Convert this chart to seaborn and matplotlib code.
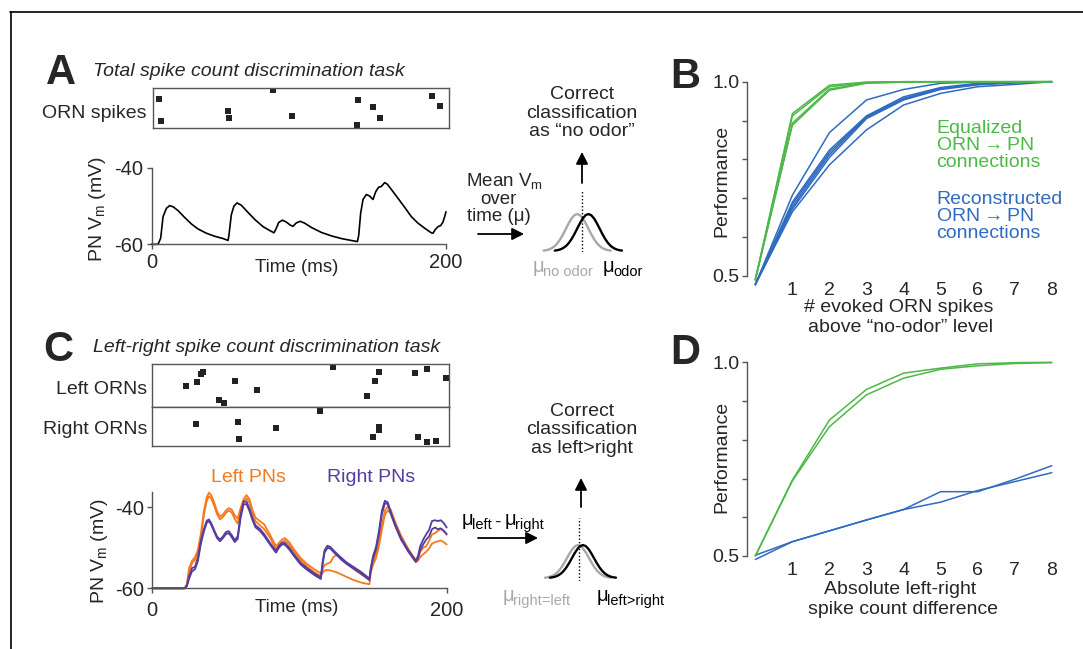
import pandas as pd
import seaborn as sns
import matplotlib.pyplot as plt
from matplotlib.lines import Line2D
from matplotlib.patches import FancyArrowPatch

sns.set_style('white')
plt.rcParams['font.family'] = ['Liberation Sans', 'DejaVu Sans']
plt.rcParams['mathtext.default'] = 'regular'

GREEN = '#4db848'
BLUE = '#2f6bc0'
ORANGE = '#f47920'
PURPLE = '#553c9f'
GRAY = '#a8a8a8'
SPINE = '#555555'
FS = 14

# ---- panel A: ORN spikes and PN membrane potential ----
a_spike_t = [5.0, 6.1, 51.9, 52.8, 82.7, 95.6, 140.4, 139.5, 150.4, 155.4, 190.3, 196.1]
a_spike_row = [0.27, 0.82, 0.58, 0.75, 0.06, 0.69, 0.31, 0.92, 0.47, 0.75, 0.19, 0.44]

a_time = [0, 4.3, 6.1, 7.7, 10, 12.2, 14.5, 17.9, 22.4, 27, 31.5, 37.1, 42.8, 48.5, 51.9,
          52.5, 54.1, 55.9, 58, 60.9, 65.5, 70, 75.7, 80.2, 83.1, 84.7, 86.3, 88.8, 91.5,
          94.2, 96, 98.3, 101, 104, 108.5, 115.3, 122.1, 128.9, 135.7, 139.8, 140.7, 142,
          143.6, 145.9, 148.1, 150.4, 152.2, 154.2, 156.1, 158.3, 160.1, 162.9, 167.4, 172,
          176.5, 181, 185.5, 190, 191.2, 192.8, 194.6, 196.4, 197.8, 199.1, 200]
a_vm = [-60, -60, -58.4, -52.8, -50.6, -49.9, -50.2, -51.2, -53.0, -54.7, -56.0, -57.1, -57.9,
        -58.5, -59.0, -57.6, -52.3, -50.0, -49.2, -49.8, -51.7, -53.5, -55.4, -56.4, -57.0,
        -55.8, -54.3, -53.7, -54.2, -55.0, -55.3, -54.4, -54.0, -54.5, -55.6, -56.9, -57.8,
        -58.5, -59.0, -59.3, -57.6, -51.9, -48.3, -47.0, -47.4, -48.3, -46.3, -45.1, -44.9,
        -43.9, -44.3, -45.7, -48.0, -50.4, -52.8, -54.5, -55.8, -57.0, -57.1, -56.1, -55.4,
        -55.1, -54.3, -52.8, -51.5]

# ---- panel C: left / right ORN spikes and PN potentials ----
c_left_t = [22.6, 30.1, 33.1, 34.7, 45.3, 48.5, 56.2, 71.3, 123.0, 145.9, 151.1, 154.0, 178.7, 186.9, 199.5]
c_left_row = [0.50, 0.43, 0.24, 0.19, 0.84, 0.91, 0.39, 0.60, 0.08, 0.74, 0.39, 0.19, 0.21, 0.12, 0.32]
c_right_t = [29.4, 58.2, 59.1, 84.3, 114.2, 149.9, 154.0, 154.0, 180.7, 186.9, 193.0]
c_right_row = [0.44, 0.39, 0.83, 0.55, 0.09, 0.77, 0.50, 0.60, 0.77, 0.91, 0.87]

c_time = [0, 22, 23.5, 25, 27, 29, 31, 33, 35, 37, 38.5, 40, 42, 44, 46, 48, 50, 52, 54, 56,
          58, 60, 62, 64, 66, 68, 70, 73, 76, 80, 84, 86, 88, 90, 93, 97, 101, 105, 110, 114.5,
          115.5, 117, 119, 121, 123, 125, 128, 132, 137, 142, 147.5, 148.5, 150, 152, 154, 156,
          158, 160, 162, 165, 169, 174, 179, 180.5, 182, 184, 186, 188, 190, 192, 194, 196, 198, 200]
left_pn_1 = [-60, -60, -59, -55, -53.2, -52.3, -50.5, -46.5, -41, -37.5,
             -36.4, -37.0, -38.8, -41.0, -42.3, -41.8, -40.8, -40.2, -40.6, -42.0,
             -42.8, -40.2, -38.0, -37.0, -38.0, -40.6, -42.5, -43.4, -44.2, -46.8,
             -49.6, -48.8, -48.0, -47.6, -48.6, -50.8, -52.6, -54.0, -55.3, -56.3,
             -55.5, -54.3, -53.9, -53.6, -52.3, -51.8, -52.3, -53.8, -55.3, -56.6,
             -57.8, -55.0, -53.2, -51.5, -48.5, -44.5, -40.8, -39.8, -40.6, -43.6,
             -47.0, -50.3, -53.0, -52.6, -51.0, -50.0, -49.6, -48.3, -46.7, -46.4,
             -45.8, -45.3, -45.9, -46.8]
left_pn_2 = [-60, -60, -59.3, -55.8, -53.8, -53.0, -51.2, -47.5, -42, -38.4,
             -37.3, -37.8, -39.6, -41.7, -43.0, -42.4, -41.4, -40.8, -41.3, -42.9,
             -44.0, -41.4, -38.8, -37.8, -38.8, -41.2, -43.4, -44.4, -45.4, -47.5,
             -50.3, -49.4, -48.6, -48.2, -49.3, -51.4, -53.2, -54.6, -56.0, -57.0,
             -56.3, -55.6, -55.5, -55.6, -55.8, -56.0, -56.5, -57.2, -58.0, -58.6,
             -59.0, -56.0, -54.2, -52.5, -49.5, -45.5, -41.8, -40.8, -41.5, -44.3,
             -47.6, -50.8, -53.5, -53.2, -52.3, -51.6, -51.0, -50.2, -49.0, -48.6,
             -48.4, -48.2, -48.6, -49.2]
right_pn_1 = [-60, -60, -59.2, -57.0, -55.0, -54.7, -52.4, -48.2, -45.4, -43.3,
              -43.0, -43.9, -45.6, -47.2, -48.0, -47.2, -46.1, -45.9, -46.9, -48.1,
              -47.2, -41.8, -38.6, -38.6, -40.3, -42.6, -44.4, -45.3, -46.6, -48.8,
              -50.8, -49.5, -48.8, -48.8, -50.0, -52.0, -53.8, -55.0, -56.3, -57.3,
              -54.0, -50.6, -49.5, -49.8, -50.6, -51.3, -52.4, -53.6, -54.8, -56.0,
              -57.6, -54.8, -52.0, -49.8, -45.8, -40.8, -38.4, -38.8, -41.2, -44.2,
              -47.6, -50.7, -53.2, -52.0, -49.6, -48.0, -46.7, -45.6, -43.4, -43.2,
              -43.4, -43.2, -43.9, -45.0]
right_pn_2 = [-60, -60, -59.5, -57.6, -55.8, -55.3, -53.2, -49.0, -46.0, -43.8,
              -43.4, -44.3, -46.0, -47.6, -48.4, -47.6, -46.6, -46.4, -47.4, -48.6,
              -47.8, -42.6, -39.3, -39.2, -40.9, -43.1, -44.9, -45.8, -47.1, -49.2,
              -51.2, -50.0, -49.2, -49.2, -50.4, -52.4, -54.2, -55.4, -56.7, -57.7,
              -54.6, -51.2, -50.0, -50.2, -51.0, -51.7, -52.8, -54.0, -55.2, -56.4,
              -58.0, -55.4, -52.6, -50.4, -46.6, -41.6, -39.0, -39.2, -41.6, -44.6,
              -48.0, -51.0, -53.5, -52.6, -50.6, -49.2, -48.0, -47.2, -45.4, -45.0,
              -45.4, -45.2, -45.8, -46.6]

# ---- schematic read-out distributions (in units of sigma) ----
bell_x = [-3, -2.75, -2.5, -2.25, -2, -1.75, -1.5, -1.25, -1, -0.75, -0.5, -0.25, 0,
          0.25, 0.5, 0.75, 1, 1.25, 1.5, 1.75, 2, 2.25, 2.5, 2.75, 3]
bell_y = [0.011, 0.023, 0.044, 0.080, 0.135, 0.216, 0.325, 0.458, 0.607, 0.755, 0.882, 0.969, 1.0,
          0.969, 0.882, 0.755, 0.607, 0.458, 0.325, 0.216, 0.135, 0.080, 0.044, 0.023, 0.011]
a_means = [0.0, 1.0]      # no odor, odor
a_threshold = 0.45
c_means = [0.0, 0.45]     # right=left, left>right
c_threshold = 0.1

# ---- panels B and D: performance ----
n_diff = [0, 1, 2, 3, 4, 5, 6, 7, 8]
b_equalized = [
    [0.49, 0.918, 0.991, 0.999, 1.0, 1.0, 1.0, 1.0, 1.0],
    [0.49, 0.912, 0.987, 0.998, 1.0, 1.0, 1.0, 1.0, 1.0],
    [0.49, 0.893, 0.981, 0.997, 0.999, 1.0, 1.0, 1.0, 1.0],
    [0.49, 0.888, 0.978, 0.996, 0.999, 1.0, 1.0, 1.0, 1.0],
]
b_reconstructed = [
    [0.478, 0.708, 0.869, 0.953, 0.980, 0.996, 0.999, 1.0, 1.0],
    [0.478, 0.690, 0.824, 0.912, 0.961, 0.985, 0.996, 0.999, 1.0],
    [0.478, 0.685, 0.818, 0.910, 0.957, 0.983, 0.994, 0.998, 1.0],
    [0.478, 0.678, 0.812, 0.908, 0.955, 0.982, 0.993, 0.998, 1.0],
    [0.478, 0.665, 0.786, 0.876, 0.940, 0.970, 0.987, 0.993, 1.0],
    [0.478, 0.672, 0.805, 0.905, 0.953, 0.980, 0.992, 0.997, 1.0],
]
d_equalized = [
    [0.5, 0.696, 0.851, 0.930, 0.972, 0.985, 0.996, 0.999, 1.0],
    [0.5, 0.694, 0.834, 0.916, 0.959, 0.982, 0.991, 0.997, 0.999],
]
d_reconstructed = [
    [0.491, 0.537, 0.565, 0.593, 0.620, 0.666, 0.666, 0.698, 0.733],
    [0.502, 0.537, 0.565, 0.593, 0.620, 0.639, 0.669, 0.692, 0.715],
]

W, H = 1083, 649
fig = plt.figure(figsize=(W / 100, H / 100), dpi=100)
fig.patch.set_facecolor('white')


def box(x0, y0, x1, y1):
    return fig.add_axes([x0 / W, 1 - y1 / H, (x1 - x0) / W, (y1 - y0) / H])


def txt(x, y, s, **kw):
    kw.setdefault('ha', 'center')
    kw.setdefault('va', 'center')
    kw.setdefault('fontsize', FS)
    return fig.text(x / W, 1 - y / H, s, **kw)


def arrow(x0, y0, x1, y1):
    fig.add_artist(FancyArrowPatch((x0 / W, 1 - y0 / H), (x1 / W, 1 - y1 / H),
                                   transform=fig.transFigure, color='k', lw=1.3,
                                   arrowstyle='-|>,head_length=0.55,head_width=0.28',
                                   mutation_scale=13, shrinkA=0, shrinkB=0))


def mu_label(x, y, sub, color):
    txt(x, y, 'μ', color=color, fontsize=14.5, ha='left', va='baseline')
    txt(x + 10, y + 4, sub, color=color, fontsize=10.5, ha='left', va='baseline')


def raster(rect, xlim, times, rows):
    ax = box(*rect)
    sns.scatterplot(x=times, y=rows, ax=ax, marker='s', s=13, color='#222222',
                    linewidth=0, legend=False)
    ax.set_xlim(*xlim)
    ax.set_ylim(1, 0)
    ax.set_xticks([])
    ax.set_yticks([])
    for s in ax.spines.values():
        s.set_color(SPINE)
        s.set_linewidth(1)
    return ax


def style_vm(ax, ylim, xpad):
    ax.set_xlim(0, 200)
    ax.set_ylim(*ylim)
    ax.set_xticks([0, 200])
    ax.set_xticklabels(['0', '200'])
    ax.set_yticks([-60, -40])
    ax.set_yticklabels(['-60', '-40'])
    ax.spines[['top', 'right']].set_visible(False)
    for s in ['left', 'bottom']:
        ax.spines[s].set_color(SPINE)
        ax.spines[s].set_linewidth(1)
    ax.tick_params(left=True, bottom=True, length=3.5, width=1, color=SPINE, labelsize=14.5)
    ax.tick_params(axis='x', pad=xpad)
    ax.tick_params(axis='y', pad=2.5)
    ax.patch.set_visible(False)
    ax.set(xlabel='', ylabel='')


def bells(rect, xlim, ylim, means, thr):
    ax = box(*rect)
    for m, c in zip(means, [GRAY, 'k']):
        sns.lineplot(x=[b + m for b in bell_x], y=bell_y, ax=ax, color=c, lw=1.7, sort=False)
    ax.plot([thr, thr], [ylim[0], ylim[1]], color='k', lw=1, ls=(0, (1, 1.5)))
    ax.set_xlim(*xlim)
    ax.set_ylim(*ylim)
    ax.axis('off')


def perf_frame(curves, group):
    return pd.DataFrame([{'x': x, 'perf': y, 'unit': f'{group}{i}', 'group': group}
                         for i, ys in enumerate(curves) for x, y in zip(n_diff, ys)])


def perf_panel(rect, eq, rec):
    ax = box(*rect)
    df = pd.concat([perf_frame(rec, 'Reconstructed'), perf_frame(eq, 'Equalized')])
    sns.lineplot(data=df, x='x', y='perf', hue='group', units='unit', estimator=None,
                 hue_order=['Reconstructed', 'Equalized'],
                 palette={'Reconstructed': BLUE, 'Equalized': GREEN},
                 lw=1.1, legend=False, ax=ax, clip_on=False)
    ax.set_xlim(-0.216, 8.1)
    ax.set_ylim(0.5, 1.0)
    ax.set_xticks(range(1, 9))
    ax.set_yticks([0.5, 0.6, 0.7, 0.8, 0.9, 1.0])
    ax.set_yticklabels(['0.5', '', '', '', '', '1.0'])
    ax.spines[['top', 'right', 'bottom']].set_visible(False)
    ax.spines['left'].set_color(SPINE)
    ax.spines['left'].set_linewidth(1)
    ax.tick_params(axis='y', left=True, length=3.4, width=1, color=SPINE, pad=2, labelsize=14)
    ax.tick_params(axis='x', bottom=False, pad=0.5, labelsize=14)
    ax.set(xlabel='', ylabel='')
    ax.patch.set_visible(False)
    return ax


# figure frame (top and left)
fig.add_artist(Line2D([10 / W, 1], [1 - 12 / H, 1 - 12 / H], color='k', lw=1.2))
fig.add_artist(Line2D([10.5 / W, 10.5 / W], [0, 1 - 12 / H], color='k', lw=1.2))

# ---------------- A ----------------
txt(61, 73, 'A', fontsize=30, fontweight='bold')
txt(93, 71, 'Total spike count discrimination task', ha='left', style='italic')
raster((153, 88, 449, 128), (0.9, 202.1), a_spike_t, a_spike_row)
txt(147, 114, 'ORN spikes', ha='right')

ax = box(151.7, 167.7, 446, 244.3)
sns.lineplot(x=a_time, y=a_vm, ax=ax, color='k', lw=1.2, sort=False, clip_on=False)
style_vm(ax, (-60, -40), 2.5)
txt(97, 209, 'PN $V_{m}$ (mV)', rotation=90)
txt(297, 268, 'Time (ms)', fontsize=13.5)

txt(504, 186, 'Mean $V_{m}$', va='baseline', fontsize=13.5)
txt(498, 204, 'over', va='baseline', fontsize=13.5)
txt(499, 221, 'time (μ)', va='baseline', fontsize=13.5)
arrow(478, 234, 524, 234)
txt(582, 113, 'Correct\nclassification\nas \u201cno odor\u201d', linespacing=1.15)
arrow(582, 183, 582, 152)
bells((538, 190, 627.6, 252), (-3.5, 4.5), (-0.027, 1.65), a_means, a_threshold)
mu_label(533, 272, 'no odor', GRAY)
mu_label(603, 272, 'odor', 'k')

# ---------------- B ----------------
txt(685, 77, 'B', fontsize=30, fontweight='bold')
perf_panel((747.3, 81.7, 1055.5, 276), b_equalized, b_reconstructed)
txt(722, 181, 'Performance', rotation=90)
txt(899, 307, '# evoked ORN spikes')
txt(901, 328, 'above \u201cno-odor\u201d level')
txt(936.5, 145.5, 'Equalized\nORN$\\rightarrow$PN\nconnections', ha='left', color=GREEN,
    linespacing=0.98)
txt(936.5, 216.5, 'Reconstructed\nORN$\\rightarrow$PN\nconnections', ha='left', color=BLUE,
    linespacing=0.98)

# ---------------- C ----------------
txt(58, 350, 'C', fontsize=30, fontweight='bold')
txt(93, 347, 'Left-right spike count discrimination task', ha='left', style='italic')
raster((152.3, 364, 449, 407), (0, 201.6), c_left_t, c_left_row)
raster((152.3, 407, 449, 446), (0, 201.6), c_right_t, c_right_row)
txt(147, 389, 'Left ORNs', ha='right')
txt(147, 429, 'Right ORNs', ha='right')

ax = box(152.3, 492.3, 446.7, 588.3)
for tr in [left_pn_1, left_pn_2]:
    sns.lineplot(x=c_time, y=tr, ax=ax, color=ORANGE, lw=1.3, sort=False, clip_on=False)
for tr in [right_pn_1, right_pn_2]:
    sns.lineplot(x=c_time, y=tr, ax=ax, color=PURPLE, lw=1.3, sort=False, clip_on=False)
style_vm(ax, (-60, -36.3), 5.5)
txt(248, 477, 'Left PNs', color=ORANGE)
txt(371, 478, 'Right PNs', color=PURPLE)
txt(100, 551, 'PN $V_{m}$ (mV)', rotation=90)
txt(297, 608, 'Time (ms)', fontsize=13.5)

mu_label(462, 525, 'left', 'k')
txt(497.5, 522, '-')
mu_label(505, 525, 'right', 'k')
arrow(478, 538, 538, 538)
txt(582, 430, 'Correct\nclassification\nas left>right', linespacing=1.15)
arrow(581, 507, 581, 478)
bells((539.5, 518, 627.5, 581), (-3.5, 4.5), (-0.09, 1.82), c_means, c_threshold)
mu_label(503, 601, 'right=left', GRAY)
mu_label(597, 601, 'left>right', 'k')

# ---------------- D ----------------
txt(685, 353, 'D', fontsize=30, fontweight='bold')
perf_panel((747.3, 362.3, 1055.5, 556), d_equalized, d_reconstructed)
txt(722, 457, 'Performance', rotation=90)
txt(900, 589, 'Absolute left-right')
txt(903, 609, 'spike count difference')

fig.savefig('out.png', dpi=100)
